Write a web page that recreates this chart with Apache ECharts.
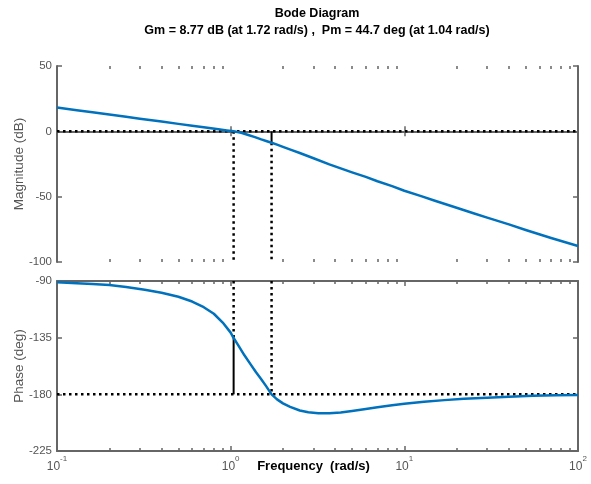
<!DOCTYPE html>
<html>
<head>
<meta charset="utf-8">
<script src="https://cdn.jsdelivr.net/npm/echarts@6/dist/echarts.min.js"></script>
<style>
  html, body { margin: 0; padding: 0; background: #fff; }
  #chart { width: 591px; height: 484px; }
</style>
</head>
<body>
<div id="chart"></div>
<script>
// margins from the title
const gm = 8.77;       // dB
const gmFreq = 1.72;   // rad/s
const pm = 44.7;       // deg
const pmFreq = 1.04;   // rad/s

// magnitude curve
const magFreq = [0.1, 0.13, 0.16, 0.2, 0.25, 0.3, 0.4, 0.5, 0.6, 0.7, 0.85, 0.95, 1.04, 1.15, 1.25, 1.38, 1.5, 1.6, 1.72, 1.85, 2.0, 2.25, 2.5, 3.0, 3.7, 4.3, 5, 6, 7, 8.5, 10, 12.5, 15, 20, 25, 30, 40, 50, 70, 100];
const magDb = [18.2, 16.2, 14.6, 12.8, 11.1, 9.7, 7.5, 5.7, 4.3, 3.1, 1.6, 0.7, 0, -1.1, -2.6, -4.4, -6.2, -7.4, -8.77, -10.2, -11.9, -14.4, -16.6, -20.6, -25.3, -28.4, -31.4, -34.9, -38.2, -41.9, -45.5, -49.6, -53.1, -58.5, -62.7, -66, -71.2, -75.5, -81.6, -87.7];

// phase curve
const phaseFreq = [0.1, 0.13, 0.16, 0.2, 0.25, 0.32, 0.4, 0.5, 0.6, 0.7, 0.8, 0.9, 1.0, 1.04, 1.1, 1.2, 1.3, 1.4, 1.5, 1.6, 1.72, 1.85, 2.0, 2.2, 2.5, 2.8, 3.2, 3.7, 4.3, 5, 6, 7, 8.5, 10, 13, 17, 22, 30, 40, 55, 75, 100];
const phaseDeg = [-91, -91.8, -92.4, -93.2, -94.8, -97, -99.3, -102.5, -106.3, -110.8, -116, -123, -131, -135.3, -140.5, -149, -156, -162.5, -168, -173.5, -180, -184, -187.2, -190, -192.8, -194.3, -195.1, -195.1, -194.4, -193.2, -191.6, -190.3, -188.6, -187.4, -185.9, -184.6, -183.6, -182.7, -181.9, -181.2, -180.8, -180.5];

// ticks
const decadeTicks = [0.1, 1, 10, 100];
const minorTicks = [0.2, 0.3, 0.4, 0.5, 0.6, 0.7, 0.8, 0.9, 2, 3, 4, 5, 6, 7, 8, 9, 20, 30, 40, 50, 60, 70, 80, 90];

const FONT = '"Liberation Sans", Arial, sans-serif';
const axisColor = '#666';
const labelColor = '#555';
const blue = '#0072BD';

function pairs(xs, ys) {
  return xs.map((x, i) => [x, ys[i]]);
}

function xAxes(gridIndex, showLabels) {
  const base = {
    type: 'log',
    logBase: 10,
    min: 0.1,
    max: 100,
    gridIndex: gridIndex,
    splitLine: { show: false },
  };
  const major = (position, labels) => Object.assign({}, base, {
    position: position,
    axisLine: { show: true, lineStyle: { color: axisColor, width: 2 } },
    axisTick: { show: true, inside: true, length: 5, customValues: decadeTicks, lineStyle: { color: axisColor, width: 1.5 } },
    axisLabel: labels ? {
      show: true,
      customValues: decadeTicks,
      margin: 4,
      formatter: (v) => '{b|10}{s|' + Math.round(Math.log10(v)) + '}',
      rich: {
        b: { fontSize: 12, color: labelColor, fontFamily: FONT, lineHeight: 18, verticalAlign: 'bottom' },
        s: { fontSize: 8, color: labelColor, fontFamily: FONT, lineHeight: 7, verticalAlign: 'top' },
      },
    } : { show: false },
  });
  const minor = (position) => Object.assign({}, base, {
    position: position,
    axisLine: { show: false },
    axisTick: { show: true, inside: true, length: 3, customValues: minorTicks, lineStyle: { color: axisColor, width: 1.5 } },
    axisLabel: { show: false },
  });
  const bottom = major('bottom', showLabels);
  if (showLabels) {
    bottom.name = 'Frequency  (rad/s)';
    bottom.nameLocation = 'middle';
    bottom.nameGap = 9;
    bottom.nameMoveOverlap = false;
    bottom.nameTextStyle = { fontFamily: FONT, fontSize: 13, fontWeight: 'bold', color: '#000', verticalAlign: 'top', padding: [0, 8, 0, 0] };
  }
  return [bottom, major('top', false), minor('bottom'), minor('top')];
}

function yAxes(gridIndex, min, max, interval, name) {
  const base = {
    type: 'value',
    gridIndex: gridIndex,
    min: min,
    max: max,
    interval: interval,
    splitLine: { show: false },
    axisLine: { show: true, lineStyle: { color: axisColor, width: 2 } },
    axisTick: { show: true, inside: true, length: 5, lineStyle: { color: axisColor, width: 1.5 } },
  };
  return [
    Object.assign({}, base, {
      position: 'left',
      name: name,
      nameLocation: 'middle',
      nameGap: 31,
      nameMoveOverlap: false,
      nameTextStyle: { fontFamily: FONT, fontSize: 13.5, color: labelColor },
      axisLabel: { show: true, margin: 5, fontFamily: FONT, fontSize: 11.5, color: labelColor },
    }),
    Object.assign({}, base, { position: 'right', axisLabel: { show: false } }),
  ];
}

const dotted = { color: '#000', width: 2.5, type: [2.5, 3.5], cap: 'butt' };
const solid = { color: '#000', width: 2 };

function guide(xIdx, yIdx, data, style) {
  return {
    type: 'line',
    xAxisIndex: xIdx,
    yAxisIndex: yIdx,
    data: data,
    symbol: 'none',
    silent: true,
    animation: false,
    lineStyle: style,
    z: 1,
  };
}

function curve(name, xIdx, yIdx, data) {
  return {
    name: name,
    type: 'line',
    xAxisIndex: xIdx,
    yAxisIndex: yIdx,
    data: data,
    smooth: false,
    symbol: 'none',
    lineStyle: { color: blue, width: 2.5, join: 'round' },
    z: 3,
  };
}

const chart = echarts.init(document.getElementById('chart'), null, { renderer: 'canvas' });

const option = {
  animation: false,
  backgroundColor: '#fff',
  textStyle: { fontFamily: FONT },
  graphic: [
    { type: 'text', x: 317, y: 14, style: { text: 'Bode Diagram', fontFamily: FONT, fontSize: 12.5, fontWeight: 'bold', fill: '#000', align: 'center', verticalAlign: 'middle' } },
    { type: 'text', x: 317, y: 31, style: { text: 'Gm = 8.77 dB (at 1.72 rad/s) ,  Pm = 44.7 deg (at 1.04 rad/s)', fontFamily: FONT, fontSize: 12.5, fontWeight: 'bold', fill: '#000', align: 'center', verticalAlign: 'middle' } },
  ],
  grid: [
    { left: 57, right: 13, top: 66, height: 196 },
    { left: 57, right: 13, top: 281, height: 170 },
  ],
  xAxis: xAxes(0, false).concat(xAxes(1, true)),
  yAxis: yAxes(0, -100, 50, 50, 'Magnitude (dB)').concat(yAxes(1, -225, -90, 45, 'Phase (deg)')),
  series: [
    // magnitude plot margin guides
    guide(0, 0, [[0.1, 0], [100, 0]], dotted),
    guide(0, 0, [[pmFreq, 0], [pmFreq, -100]], dotted),
    guide(0, 0, [[gmFreq, -gm], [gmFreq, -100]], dotted),
    guide(0, 0, [[gmFreq, 0], [gmFreq, -gm]], solid),
    // phase plot margin guides
    guide(4, 2, [[0.1, -180], [100, -180]], dotted),
    guide(4, 2, [[pmFreq, -90], [pmFreq, -180 + pm]], dotted),
    guide(4, 2, [[pmFreq, -180 + pm], [pmFreq, -180]], solid),
    guide(4, 2, [[gmFreq, -90], [gmFreq, -180]], dotted),
    curve('Magnitude', 0, 0, pairs(magFreq, magDb)),
    curve('Phase', 4, 2, pairs(phaseFreq, phaseDeg)),
  ],
};

chart.setOption(option);
</script>
</body>
</html>
